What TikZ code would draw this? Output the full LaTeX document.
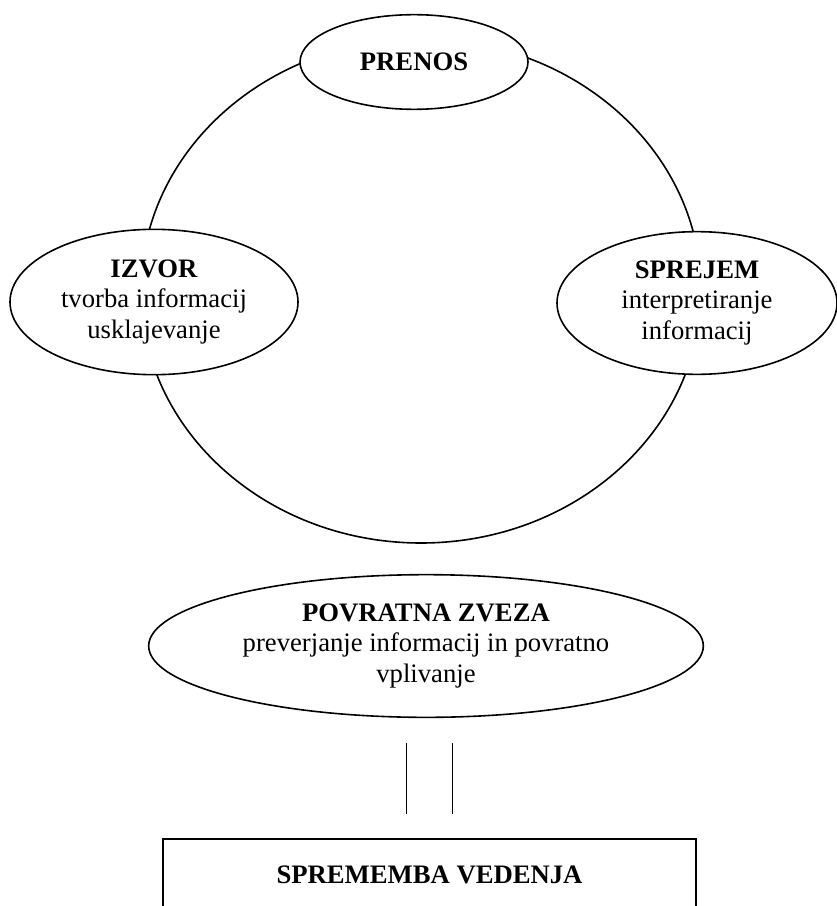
\documentclass[tikz,border=0pt]{standalone}
\usepackage{fontspec}
\setmainfont{Liberation Serif}
\usetikzlibrary{shapes.geometric,calc,positioning}

\begin{document}
\begin{tikzpicture}[x=0.75pt,y=-0.75pt,line width=1.2pt,
    bubble/.style={draw, ellipse, fill=white, inner sep=0pt, align=center,
      font=\fontsize{20}{23}\selectfont},
    box/.style={draw, rectangle, inner sep=0pt, align=center,
      font=\fontsize{20}{23}\selectfont\bfseries}]
      \useasboundingbox (0,0) rectangle (837,906);

      % Loop behind the stages
      \draw (421,291) ellipse [x radius=210pt, y radius=189pt];

      % Stages on the loop
      \node[bubble, minimum width=171pt, minimum height=71pt] (prenos) at (414,62) {\textbf{PRENOS}};
      \node[bubble, minimum width=216pt, minimum height=109pt] (izvor) at (154,302) {\textbf{IZVOR}\\tvorba informacij\\usklajevanje};
      \node[bubble, minimum width=210pt, minimum height=107pt] (sprejem) at (697,303) {\textbf{SPREJEM}\\interpretiranje\\informacij};

      % Feedback
      \node[bubble, minimum width=416pt, minimum height=107pt] (zveza) at (426,646) {\textbf{POVRATNA ZVEZA}\\preverjanje informacij in povratno\\vplivanje};

      % Result box, cut by the bottom edge
      \node[box, minimum width=400pt, minimum height=54pt] (sprememba) at (429.5,875) {SPREMEMBA VEDENJA};

      % Double line between feedback and box
      \foreach \dx in {-23,23} {
        \draw ($(zveza.south -| sprememba.north)+(\dx,25)$) -- ($(sprememba.north)+(\dx,-24)$);
      }
\end{tikzpicture}
\end{document}
